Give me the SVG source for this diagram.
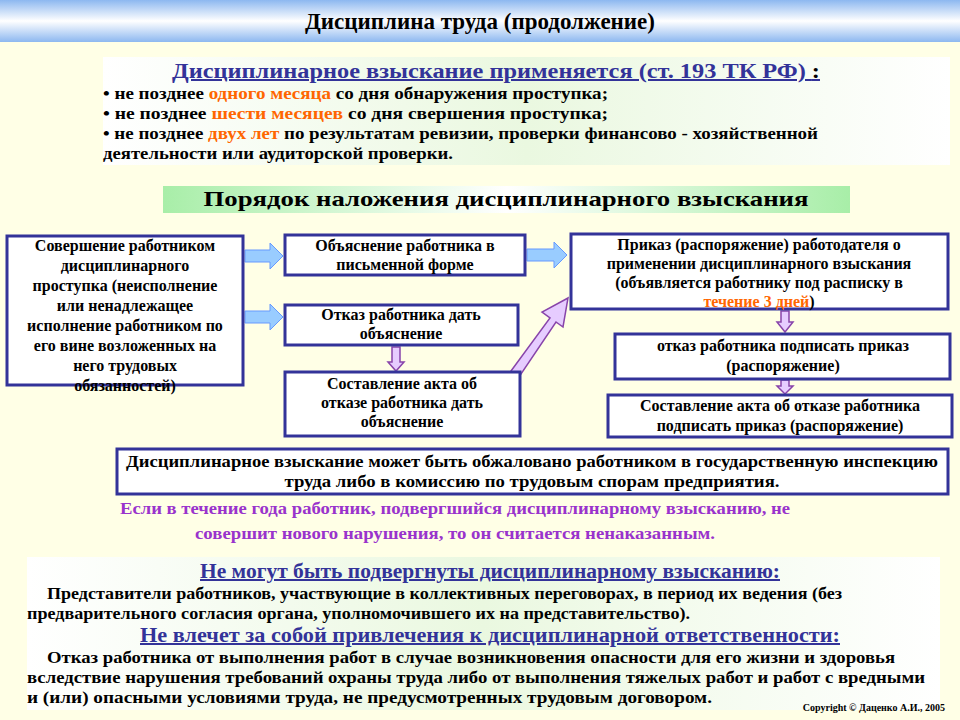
<svg xmlns="http://www.w3.org/2000/svg" width="960" height="720" viewBox="0 0 960 720" font-family="'Liberation Serif', 'DejaVu Serif', serif" font-weight="bold">
<defs>
<linearGradient id="top" x1="0" y1="0" x2="0" y2="1"><stop offset="0" stop-color="#8DB8F0"/><stop offset="0.5" stop-color="#FFFFFF"/><stop offset="1" stop-color="#8DB8F0"/></linearGradient>
<linearGradient id="bx" x1="0" y1="0" x2="1" y2="0"><stop offset="0" stop-color="#FFFFFF"/><stop offset="0.5" stop-color="#EAF8E0"/><stop offset="1" stop-color="#FFFFFF"/></linearGradient>
<linearGradient id="gr" x1="0" y1="0" x2="1" y2="0"><stop offset="0" stop-color="#A8EEA8"/><stop offset="0.5" stop-color="#FFFFFF"/><stop offset="1" stop-color="#A8EEA8"/></linearGradient>
<style>
text{fill:#000}
.n{fill:#fff;stroke:#333399;stroke-width:3}
.t{font-size:16px;text-anchor:middle}
.b{font-size:16px}
.o{fill:#FF6600}
.h{fill:#333399;font-size:20px;text-anchor:middle;text-decoration:underline}
.ba{fill:#99CCFF;stroke:#6699FF;stroke-width:1}
.pa{fill:#E6CCFF;stroke:#8844AA;stroke-width:1.5}
.p{fill:#9933CC;font-size:16px;text-anchor:middle}
</style>
</defs>
<rect width="960" height="720" fill="#FFFFE6"/>
<rect width="960" height="42" fill="url(#top)"/>
<text x="480" y="29" font-size="23" text-anchor="middle">Дисциплина труда (продолжение)</text>
<g id="rules">
<rect x="103" y="57" width="847" height="108" fill="url(#bx)"/>
<text x="496" y="78" class="h" textLength="648" lengthAdjust="spacingAndGlyphs">Дисциплинарное взыскание применяется (ст. 193 ТК РФ) <tspan fill="#000">:</tspan></text>
<text x="103" y="99" class="b" textLength="505" lengthAdjust="spacingAndGlyphs">•  не позднее <tspan class="o">одного месяца</tspan> со дня обнаружения проступка;</text>
<text x="103" y="119" class="b" textLength="505" lengthAdjust="spacingAndGlyphs">•  не позднее <tspan class="o">шести месяцев</tspan>  со дня свершения проступка;</text>
<text x="103" y="139" class="b" textLength="715" lengthAdjust="spacingAndGlyphs">•  не позднее <tspan class="o">двух лет</tspan> по результатам ревизии, проверки финансово - хозяйственной</text>
<text x="103" y="159" class="b" textLength="350" lengthAdjust="spacingAndGlyphs">деятельности или аудиторской проверки.</text>
</g>
<g id="order">
<rect x="163" y="186" width="687" height="27" fill="url(#gr)"/>
<text x="506" y="206" font-size="21" text-anchor="middle" textLength="605" lengthAdjust="spacingAndGlyphs">Порядок наложения дисциплинарного взыскания</text>
</g>
<g id="connectors">
<path class="ba" d="M245,250 H270 V243 L283,256 L270,269 V262 H245 Z"/>
<path class="ba" d="M245,311 H270 V304 L283,317 L270,330 V323 H245 Z"/>
<path class="ba" d="M527,249 H554 V242 L567,255 L554,268 V261 H527 Z"/>
<path class="pa" d="M392,347 H400 V362 H404 L396,371 L388,362 H392 Z"/>
<path class="pa" d="M781,311 H789 V322 H793 L785,332 L777,322 H781 Z"/>
<path class="pa" d="M781,380 H789 V386 H793 L785,394 L777,386 H781 Z"/>
<path class="pa" d="M511,371 L550,318 L542,312 L568,298 L563,327 L556,322 L519,377 Z"/>
</g>
<g id="nA"><rect class="n" x="7" y="236" width="236" height="149"/>
<text class="t" x="125" y="251"><tspan x="125" dy="0">Совершение работником</tspan><tspan x="125" dy="20">дисциплинарного</tspan><tspan x="125" dy="20">проступка (неисполнение</tspan><tspan x="125" dy="20">или ненадлежащее</tspan><tspan x="125" dy="20">исполнение работником по</tspan><tspan x="125" dy="20">его вине возложенных на</tspan><tspan x="125" dy="20">него трудовых</tspan><tspan x="125" dy="20">обязанностей)</tspan></text></g>
<g id="nB"><rect class="n" x="285" y="235" width="240" height="40"/>
<text class="t" x="405" y="251"><tspan x="405">Объяснение работника в</tspan><tspan x="405" dy="19">письменной форме</tspan></text></g>
<g id="nC"><rect class="n" x="285" y="305" width="233" height="40"/>
<text class="t" x="401" y="320"><tspan x="401">Отказ работника дать</tspan><tspan x="401" dy="19">объяснение</tspan></text></g>
<g id="nD"><rect class="n" x="285" y="372" width="235" height="64"/>
<text class="t" x="402" y="389"><tspan x="402">Составление акта об</tspan><tspan x="402" dy="19">отказе работника дать</tspan><tspan x="402" dy="19">объяснение</tspan></text></g>
<g id="nE"><rect class="n" x="571" y="234" width="377" height="75"/>
<text class="t" x="759" y="250"><tspan x="759">Приказ (распоряжение) работодателя о</tspan><tspan x="759" dy="19">применении дисциплинарного взыскания</tspan><tspan x="759" dy="19">(объявляется работнику под  расписку в</tspan><tspan x="759" dy="19"><tspan class="o">течение 3 дней</tspan>)</tspan></text></g>
<g id="nF"><rect class="n" x="615" y="334" width="335" height="45"/>
<text class="t" x="783" y="351"><tspan x="783">отказ работника подписать приказ</tspan><tspan x="783" dy="20">(распоряжение)</tspan></text></g>
<g id="nG"><rect class="n" x="608" y="395" width="344" height="42"/>
<text class="t" x="780" y="411"><tspan x="780">Составление акта об отказе работника</tspan><tspan x="780" dy="20">подписать приказ (распоряжение)</tspan></text></g>
<g id="nH"><rect class="n" x="117" y="449" width="831" height="45"/>
<text class="t" x="532" y="467" textLength="812" lengthAdjust="spacingAndGlyphs">Дисциплинарное взыскание может быть обжаловано работником в государственную инспекцию</text>
<text class="t" x="532" y="487" textLength="495" lengthAdjust="spacingAndGlyphs">труда либо в комиссию по трудовым спорам предприятия.</text></g>
<g id="note">
<text x="455" y="514" class="p" textLength="670" lengthAdjust="spacingAndGlyphs">Если в течение года работник, подвергшийся дисциплинарному взысканию, не</text>
<text x="455" y="539" class="p" textLength="520" lengthAdjust="spacingAndGlyphs">совершит нового нарушения, то он считается ненаказанным.</text>
</g>
<g id="bottom">
<rect x="27" y="557" width="913" height="153" fill="url(#bx)"/>
<text x="490" y="578" class="h" textLength="580" lengthAdjust="spacingAndGlyphs">Не могут быть подвергнуты дисциплинарному взысканию:</text>
<text x="47" y="599" class="b" textLength="795" lengthAdjust="spacingAndGlyphs">Представители работников, участвующие в коллективных переговорах, в период их ведения (без</text>
<text x="27" y="619" class="b" textLength="663" lengthAdjust="spacingAndGlyphs">предварительного согласия органа, уполномочившего их на представительство).</text>
<text x="490" y="642" class="h" textLength="700" lengthAdjust="spacingAndGlyphs">Не влечет за собой привлечения к дисциплинарной ответственности:</text>
<text x="47" y="663" class="b" textLength="848" lengthAdjust="spacingAndGlyphs">Отказ работника от выполнения работ в случае возникновения опасности для его жизни и здоровья</text>
<text x="27" y="683" class="b" textLength="898" lengthAdjust="spacingAndGlyphs">вследствие нарушения требований охраны труда либо от выполнения тяжелых работ и работ с вредными</text>
<text x="27" y="703" class="b" textLength="685" lengthAdjust="spacingAndGlyphs">и (или) опасными условиями труда, не предусмотренных трудовым договором.</text>
<text x="945" y="711" font-size="10" text-anchor="end">Copyright © Даценко А.И., 2005</text>
</g>
</svg>
